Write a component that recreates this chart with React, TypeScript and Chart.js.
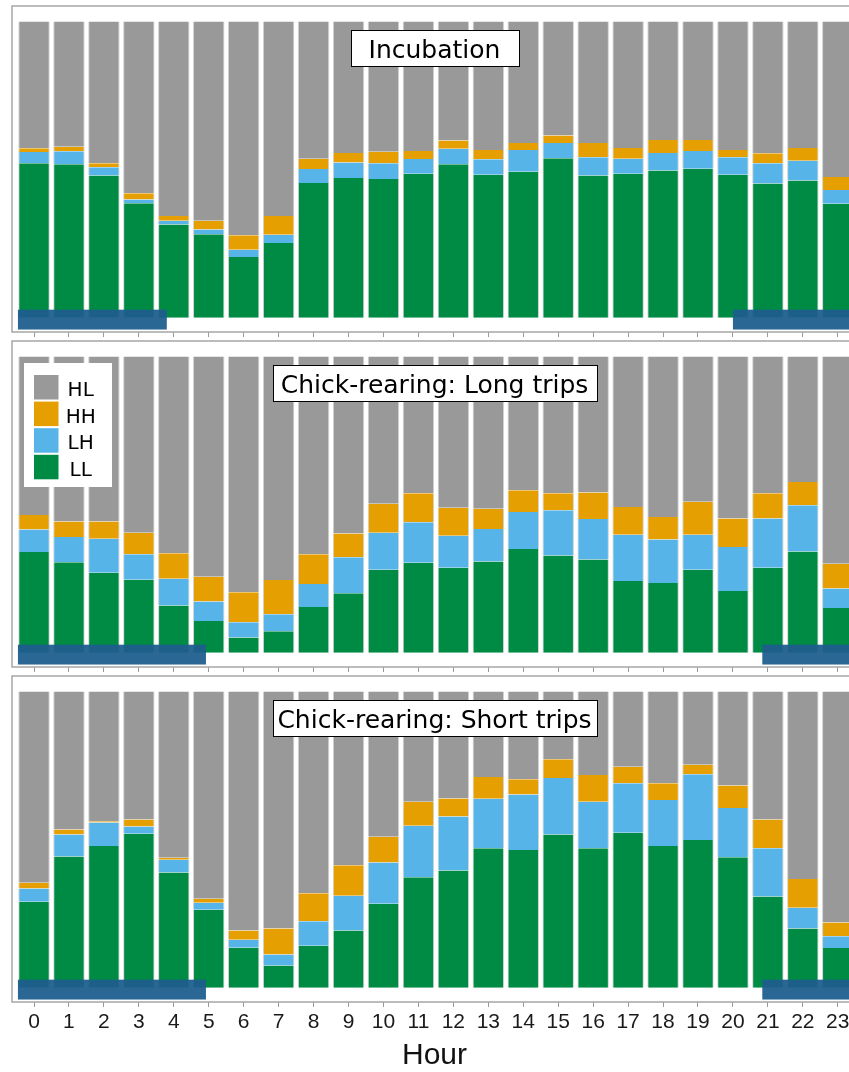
import React, { useEffect, useRef } from "react";
import { Chart, registerables } from "chart.js";

Chart.register(...registerables);

// ---------- data ----------
const HOURS = [0, 1, 2, 3, 4, 5, 6, 7, 8, 9, 10, 11, 12, 13, 14, 15, 16, 17, 18, 19, 20, 21, 22, 23];
const HOUR_LABELS = ["0", "1", "2", "3", "4", "5", "6", "7", "8", "9", "10", "11", "12", "13", "14", "15", "16", "17", "18", "19", "20", "21", "22", "23"];

const SERIES_NAMES = ["LL", "LH", "HH", "HL"];
const SERIES_COLORS = ["#008b45", "#56b4e9", "#e69f00", "#999999"];

const PANEL_TITLES = ["Incubation", "Chick-rearing: Long trips", "Chick-rearing: Short trips"];
const X_TITLE = "Hour";

// Incubation
const INC_LL = [0.521, 0.518, 0.480, 0.386, 0.315, 0.282, 0.205, 0.252, 0.455, 0.472, 0.468, 0.486, 0.518, 0.483, 0.493, 0.538, 0.480, 0.486, 0.497, 0.503, 0.483, 0.453, 0.463, 0.385];
const INC_LH = [0.038, 0.044, 0.028, 0.013, 0.012, 0.016, 0.024, 0.028, 0.047, 0.052, 0.053, 0.050, 0.052, 0.052, 0.073, 0.052, 0.062, 0.051, 0.059, 0.060, 0.059, 0.068, 0.067, 0.046];
const INC_HH = [0.013, 0.015, 0.013, 0.021, 0.016, 0.029, 0.049, 0.063, 0.035, 0.032, 0.039, 0.027, 0.028, 0.031, 0.024, 0.025, 0.048, 0.036, 0.044, 0.037, 0.024, 0.034, 0.043, 0.044];
const INC_HL = [0.428, 0.423, 0.479, 0.580, 0.657, 0.673, 0.722, 0.657, 0.463, 0.444, 0.440, 0.437, 0.402, 0.434, 0.410, 0.385, 0.410, 0.427, 0.400, 0.400, 0.434, 0.445, 0.427, 0.525];

// Chick-rearing: Long trips
const LONG_LL = [0.340, 0.305, 0.270, 0.246, 0.159, 0.107, 0.051, 0.072, 0.154, 0.201, 0.280, 0.304, 0.287, 0.308, 0.350, 0.328, 0.315, 0.242, 0.235, 0.280, 0.208, 0.287, 0.342, 0.151];
const LONG_LH = [0.076, 0.086, 0.115, 0.086, 0.091, 0.066, 0.052, 0.058, 0.078, 0.121, 0.125, 0.136, 0.108, 0.110, 0.125, 0.153, 0.136, 0.156, 0.147, 0.118, 0.149, 0.166, 0.156, 0.066];
const LONG_HH = [0.049, 0.052, 0.058, 0.073, 0.086, 0.083, 0.101, 0.115, 0.100, 0.080, 0.098, 0.098, 0.094, 0.068, 0.073, 0.057, 0.090, 0.094, 0.076, 0.112, 0.096, 0.085, 0.078, 0.083];
const LONG_HL = [0.535, 0.557, 0.557, 0.595, 0.664, 0.744, 0.796, 0.755, 0.668, 0.598, 0.497, 0.462, 0.511, 0.514, 0.452, 0.462, 0.459, 0.508, 0.542, 0.490, 0.547, 0.462, 0.424, 0.700];

// Chick-rearing: Short trips
const SHORT_LL = [0.290, 0.443, 0.478, 0.520, 0.389, 0.263, 0.135, 0.075, 0.142, 0.193, 0.283, 0.373, 0.396, 0.471, 0.465, 0.517, 0.471, 0.523, 0.478, 0.499, 0.440, 0.308, 0.200, 0.134];
const SHORT_LH = [0.045, 0.074, 0.080, 0.024, 0.043, 0.024, 0.027, 0.037, 0.082, 0.117, 0.140, 0.174, 0.182, 0.167, 0.187, 0.191, 0.157, 0.167, 0.156, 0.222, 0.167, 0.163, 0.070, 0.040];
const SHORT_HH = [0.019, 0.017, 0.004, 0.024, 0.007, 0.013, 0.031, 0.088, 0.095, 0.103, 0.087, 0.081, 0.061, 0.073, 0.052, 0.063, 0.090, 0.056, 0.056, 0.032, 0.076, 0.097, 0.097, 0.046];
const SHORT_HL = [0.646, 0.466, 0.438, 0.432, 0.561, 0.700, 0.807, 0.800, 0.681, 0.587, 0.490, 0.372, 0.361, 0.289, 0.296, 0.229, 0.282, 0.254, 0.310, 0.247, 0.317, 0.432, 0.633, 0.780];

// Night periods (hours) shown as the dark band at the bottom
const NIGHT_INC = [[-0.46, 3.8], [20.0, 23.55]];
const NIGHT_LONG = [[-0.46, 4.92], [20.84, 23.55]];
const NIGHT_SHORT = [[-0.46, 4.92], [20.84, 23.55]];
const NIGHT_BAND = [-0.04, 0.027];

// ---------- styling ----------
const X_MIN = -0.63;
const X_MAX = 23.55;
const Y_MIN = -0.0483;
const Y_MAX = 1.0523;
const NIGHT_COLOR = "rgba(30,93,142,0.94)";
const FRAME_COLOR = "#a6a6a6";
const CANVAS_W = 870;
const PANEL_STEP = 335;

type PanelDef = {
  title: string;
  series: number[][];
  night: number[][];
  legend: boolean;
  last: boolean;
  padX: number;
};

const PANELS: PanelDef[] = [
  { title: PANEL_TITLES[0], series: [INC_LL, INC_LH, INC_HH, INC_HL], night: NIGHT_INC, legend: false, last: false, padX: 18 },
  { title: PANEL_TITLES[1], series: [LONG_LL, LONG_LH, LONG_HH, LONG_HL], night: NIGHT_LONG, legend: true, last: false, padX: 8 },
  { title: PANEL_TITLES[2], series: [SHORT_LL, SHORT_LH, SHORT_HH, SHORT_HL], night: NIGHT_SHORT, legend: false, last: true, padX: 5 },
];

const decorPlugin = {
  id: "panelDecor",
  afterDatasetsDraw(chart: any, _args: any, opts: any) {
    const { ctx, chartArea: ca } = chart;
    const x = chart.scales.x;
    const y = chart.scales.y;
    ctx.save();

    // night band
    ctx.beginPath();
    ctx.rect(ca.left, ca.top, ca.right - ca.left, ca.bottom - ca.top);
    ctx.clip();
    ctx.fillStyle = NIGHT_COLOR;
    const yTop = y.getPixelForValue(NIGHT_BAND[1]);
    const yBot = y.getPixelForValue(NIGHT_BAND[0]);
    for (const [s, e] of opts.night) {
      const x0 = x.getPixelForValue(s);
      const x1 = x.getPixelForValue(e);
      ctx.fillRect(x0, yTop, x1 - x0, yBot - yTop);
    }

    // title box
    ctx.font = '25px "DejaVu Sans"';
    const tw = ctx.measureText(opts.title).width;
    const cx = (ca.left + ca.right) / 2;
    const bw = Math.round(tw + 2 * opts.padX);
    const bx = Math.round(cx - bw / 2);
    const by = ca.top + 24;
    const bh = 36;
    ctx.fillStyle = "#ffffff";
    ctx.fillRect(bx, by, bw, bh);
    ctx.strokeStyle = "#000000";
    ctx.lineWidth = 1;
    ctx.strokeRect(bx + 0.5, by + 0.5, bw, bh);
    ctx.fillStyle = "#000000";
    ctx.textAlign = "center";
    ctx.textBaseline = "alphabetic";
    ctx.fillText(opts.title, cx, ca.top + 52);

    // legend
    if (opts.legend) {
      const lx = ca.left + 12;
      const ly = ca.top + 22;
      ctx.fillStyle = "#ffffff";
      ctx.fillRect(lx, ly, 88, 124);
      const items = chart.data.datasets.slice().reverse();
      ctx.font = '20px "DejaVu Sans"';
      ctx.textAlign = "center";
      items.forEach((ds: any, i: number) => {
        const sy = ca.top + 34 + i * 26.6;
        ctx.fillStyle = ds.backgroundColor;
        ctx.fillRect(ca.left + 22, sy, 24.5, 24.5);
        ctx.fillStyle = "#000000";
        ctx.fillText(ds.label, ca.left + 68.7, sy + 21);
      });
    }
    ctx.restore();

    // frame
    ctx.save();
    ctx.strokeStyle = FRAME_COLOR;
    ctx.lineWidth = 1.5;
    ctx.strokeRect(ca.left, ca.top, ca.right - ca.left, ca.bottom - ca.top);
    ctx.restore();
  },
};

function Panel({ def, index }: { def: PanelDef; index: number }) {
  const ref = useRef<HTMLCanvasElement>(null);
  const height = def.last ? 402 : 340;
  useEffect(() => {
    if (!ref.current) return;
    const axisH = def.last ? 70 : 8;
    const chart = new Chart(ref.current, {
      type: "bar",
      data: {
        labels: HOURS,
        datasets: def.series.map((vals, i) => ({
          label: SERIES_NAMES[i],
          data: vals,
          backgroundColor: SERIES_COLORS[i],
          borderColor: "#d2d2d2",
          borderWidth: { left: 1, right: 1, top: 0, bottom: 0 },
          borderSkipped: false,
          barPercentage: 0.9,
          categoryPercentage: 1,
        })),
      },
      options: {
        animation: false,
        responsive: false,
        events: [],
        layout: { padding: { top: 6, left: 12, right: 13, bottom: height - 332 - axisH } },
        plugins: {
          legend: { display: false },
          tooltip: { enabled: false },
          title: { display: false },
          panelDecor: { title: def.title, night: def.night, legend: def.legend, padX: def.padX },
        } as any,
        scales: {
          x: {
            type: "linear",
            stacked: true,
            offset: false,
            min: X_MIN,
            max: X_MAX,
            afterBuildTicks: (axis: any) => {
              axis.ticks = HOURS.map((h) => ({ value: h }));
            },
            afterFit: (axis: any) => {
              axis.height = axisH;
            },
            grid: {
              display: true,
              offset: false,
              drawOnChartArea: false,
              drawTicks: true,
              tickLength: 5,
              tickColor: "#9a9a9a",
              tickWidth: 1,
            },
            border: { display: false },
            ticks: {
              display: def.last,
              autoSkip: false,
              maxRotation: 0,
              minRotation: 0,
              padding: 3,
              color: "#1a1a1a",
              font: { family: "'Liberation Sans', Arial, sans-serif", size: 21 },
              callback: (_v: any, i: number) => HOUR_LABELS[i],
            },
            title: {
              display: def.last,
              text: X_TITLE,
              color: "#111111",
              font: { family: "'Liberation Sans', Arial, sans-serif", size: 30, lineHeight: 1 },
              padding: { top: 0, bottom: 1 },
            },
          },
          y: {
            display: false,
            stacked: true,
            min: Y_MIN,
            max: Y_MAX,
          },
        },
      } as any,
      plugins: [decorPlugin],
    });
    return () => chart.destroy();
  }, [def, height]);
  return (
    <canvas
      ref={ref}
      width={CANVAS_W}
      height={height}
      style={{ position: "absolute", left: 0, top: index * PANEL_STEP, width: CANVAS_W, height }}
    />
  );
}

export default function App() {
  return (
    <div
      style={{
        position: "absolute",
        left: 0,
        top: 0,
        width: 849,
        height: 1072,
        overflow: "hidden",
        background: "#ffffff",
      }}
    >
      {PANELS.map((p, i) => (
        <Panel key={i} def={p} index={i} />
      ))}
    </div>
  );
}
